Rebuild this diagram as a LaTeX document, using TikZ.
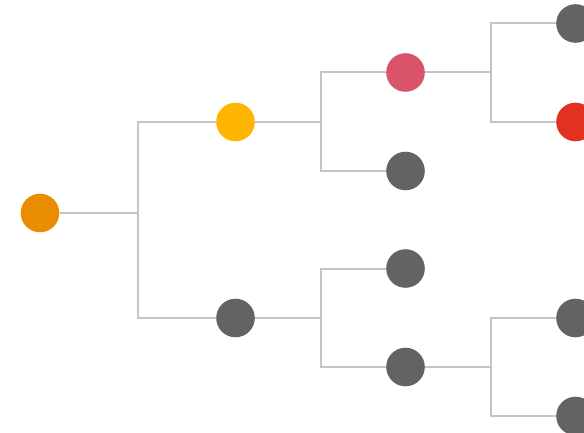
\documentclass[tikz,border=0pt]{standalone}
\usetikzlibrary{calc}
\definecolor{corange}{HTML}{EA8C00}
\definecolor{cyellow}{HTML}{FFB400}
\definecolor{cpink}{HTML}{D9536B}
\definecolor{cred}{HTML}{E0321F}
\definecolor{cgray}{HTML}{636363}
\definecolor{cline}{HTML}{C4C4C4}
\begin{document}
\begin{tikzpicture}[x=1pt,y=-1pt,
  dot/.style={circle,inner sep=0pt,minimum size=38.6pt,draw=none},
  conn/.style={draw=cline,line width=2pt}]
\useasboundingbox (0,0) rectangle (584,433);
% nodes
\node[dot,fill=corange] (r) at (40,213) {};
\node[dot,fill=cyellow] (a) at (235.5,122) {};
\node[dot,fill=cgray] (b) at (235.5,318) {};
\node[dot,fill=cpink] (aa) at (405.5,72.5) {};
\node[dot,fill=cgray] (ab) at (405.5,171) {};
\node[dot,fill=cgray] (ba) at (405.5,268.5) {};
\node[dot,fill=cgray] (bb) at (405.5,367) {};
\node[dot,fill=cgray] (aaa) at (575.5,23.5) {};
\node[dot,fill=cred] (aab) at (575.5,122) {};
\node[dot,fill=cgray] (bba) at (575.5,318) {};
\node[dot,fill=cgray] (bbb) at (575.5,416) {};
% branch points
\coordinate (p0) at (137.5,213);
\coordinate (p1) at (320.5,122);
\coordinate (p2) at (320.5,318);
\coordinate (p3) at (490.5,72.5);
\coordinate (p4) at (490.5,367);
% connectors
\draw[conn] (r) -- (p0);
\draw[conn] (p0) |- (a);
\draw[conn] (p0) |- (b);
\draw[conn] (a) -- (p1);
\draw[conn] (p1) |- (aa);
\draw[conn] (p1) |- (ab);
\draw[conn] (b) -- (p2);
\draw[conn] (p2) |- (ba);
\draw[conn] (p2) |- (bb);
\draw[conn] (aa) -- (p3);
\draw[conn] (p3) |- (aaa);
\draw[conn] (p3) |- (aab);
\draw[conn] (bb) -- (p4);
\draw[conn] (p4) |- (bba);
\draw[conn] (p4) |- (bbb);
\end{tikzpicture}
\end{document}
